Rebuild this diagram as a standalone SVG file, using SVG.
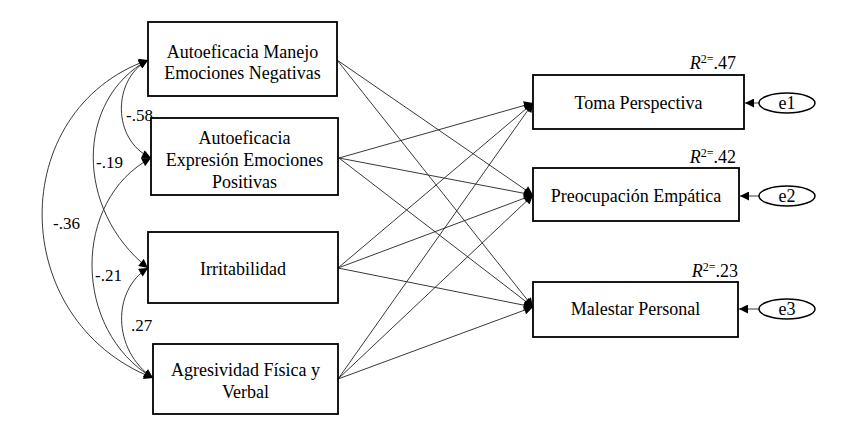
<svg xmlns="http://www.w3.org/2000/svg" width="850" height="430" viewBox="0 0 850 430">
<defs>
<marker id="ah" viewBox="0 0 10 10" refX="10" refY="5" markerWidth="11" markerHeight="9" markerUnits="userSpaceOnUse" orient="auto-start-reverse">
<path d="M0,0 L10,5 L0,10 z" fill="#000"/>
</marker>
<style>
.box{fill:#fff;stroke:#000;stroke-width:1.8}
.ell{fill:#fff;stroke:#000;stroke-width:1.5}
.t{font-family:"Liberation Serif","Times New Roman",serif;font-size:18px;fill:#000;text-anchor:middle}
.lbl{font-family:"Liberation Serif","Times New Roman",serif;font-size:17px;fill:#000}
.r2{font-family:"Liberation Serif","Times New Roman",serif;font-size:18px;fill:#000;text-anchor:end}
.p{fill:none;stroke:#222;stroke-width:0.9;marker-end:url(#ah)}
.cov{fill:none;stroke:#222;stroke-width:0.9;marker-start:url(#ah);marker-end:url(#ah)}
</style>
</defs>
<rect width="850" height="430" fill="#fff"/>
<g id="connectors">
<path class="p" d="M337,60 L533,195"/>
<path class="p" d="M337,60 L533,307"/>
<path class="p" d="M339,158 L533,103"/>
<path class="p" d="M339,158 L533,195"/>
<path class="p" d="M339,158 L533,307"/>
<path class="p" d="M338,268 L533,103"/>
<path class="p" d="M338,268 L533,195"/>
<path class="p" d="M338,268 L533,307"/>
<path class="p" d="M338,379 L533,103"/>
<path class="p" d="M338,379 L533,195"/>
<path class="p" d="M338,379 L533,307"/>
<path class="p" d="M759,103 L745,103"/>
<path class="p" d="M759,196 L740,196"/>
<path class="p" d="M759,309 L739,309"/>
<path class="cov" d="M148,60 C112,80 112,140 151,158"/>
<path class="cov" d="M148,60 C75,100 75,210 148,268"/>
<path class="cov" d="M148,60 C6,110 6,320 153,378"/>
<path class="cov" d="M151,158 C72,200 72,330 153,378"/>
<path class="cov" d="M148,268 C112,290 112,350 153,378"/>
<text class="lbl" x="126" y="121">-.58</text>
<text class="lbl" x="96" y="168">-.19</text>
<text class="lbl" x="53" y="229">-.36</text>
<text class="lbl" x="95" y="281">-.21</text>
<text class="lbl" x="131" y="331">.27</text>
</g>
<g id="n1">
<rect class="box" x="148" y="22" width="189" height="74"/>
<text class="t" x="242.5" y="58">Autoeficacia Manejo</text>
<text class="t" x="242.5" y="79">Emociones Negativas</text>
</g>
<g id="n2">
<rect class="box" x="151" y="118" width="187" height="77"/>
<text class="t" x="244.5" y="144">Autoeficacia</text>
<text class="t" x="244.5" y="166">Expresión Emociones</text>
<text class="t" x="244.5" y="188">Positivas</text>
</g>
<g id="n3">
<rect class="box" x="148" y="232" width="190" height="71"/>
<text class="t" x="243" y="275">Irritabilidad</text>
</g>
<g id="n4">
<rect class="box" x="153" y="344" width="185" height="70"/>
<text class="t" x="245.5" y="376">Agresividad Física y</text>
<text class="t" x="245.5" y="398">Verbal</text>
</g>
<g id="n5">
<rect class="box" x="533" y="75" width="211" height="54"/>
<text class="t" x="638.5" y="109">Toma Perspectiva</text>
<text class="r2" x="736" y="69"><tspan font-style="italic">R</tspan><tspan font-size="12" dy="-6">2=</tspan><tspan dy="6">.47</tspan></text>
</g>
<g id="n6">
<rect class="box" x="533" y="168" width="206" height="53"/>
<text class="t" x="636" y="202">Preocupación Empática</text>
<text class="r2" x="736" y="163"><tspan font-style="italic">R</tspan><tspan font-size="12" dy="-6">2=</tspan><tspan dy="6">.42</tspan></text>
</g>
<g id="n7">
<rect class="box" x="533" y="282" width="205" height="55"/>
<text class="t" x="635.5" y="315">Malestar Personal</text>
<text class="r2" x="738" y="277"><tspan font-style="italic">R</tspan><tspan font-size="12" dy="-6">2=</tspan><tspan dy="6">.23</tspan></text>
</g>
<g id="e1">
<ellipse class="ell" cx="787" cy="103" rx="28" ry="10"/>
<text class="t" x="787" y="109">e1</text>
</g>
<g id="e2">
<ellipse class="ell" cx="787" cy="196" rx="28" ry="10"/>
<text class="t" x="787" y="202">e2</text>
</g>
<g id="e3">
<ellipse class="ell" cx="787" cy="309" rx="28" ry="10"/>
<text class="t" x="787" y="315">e3</text>
</g>
</svg>
